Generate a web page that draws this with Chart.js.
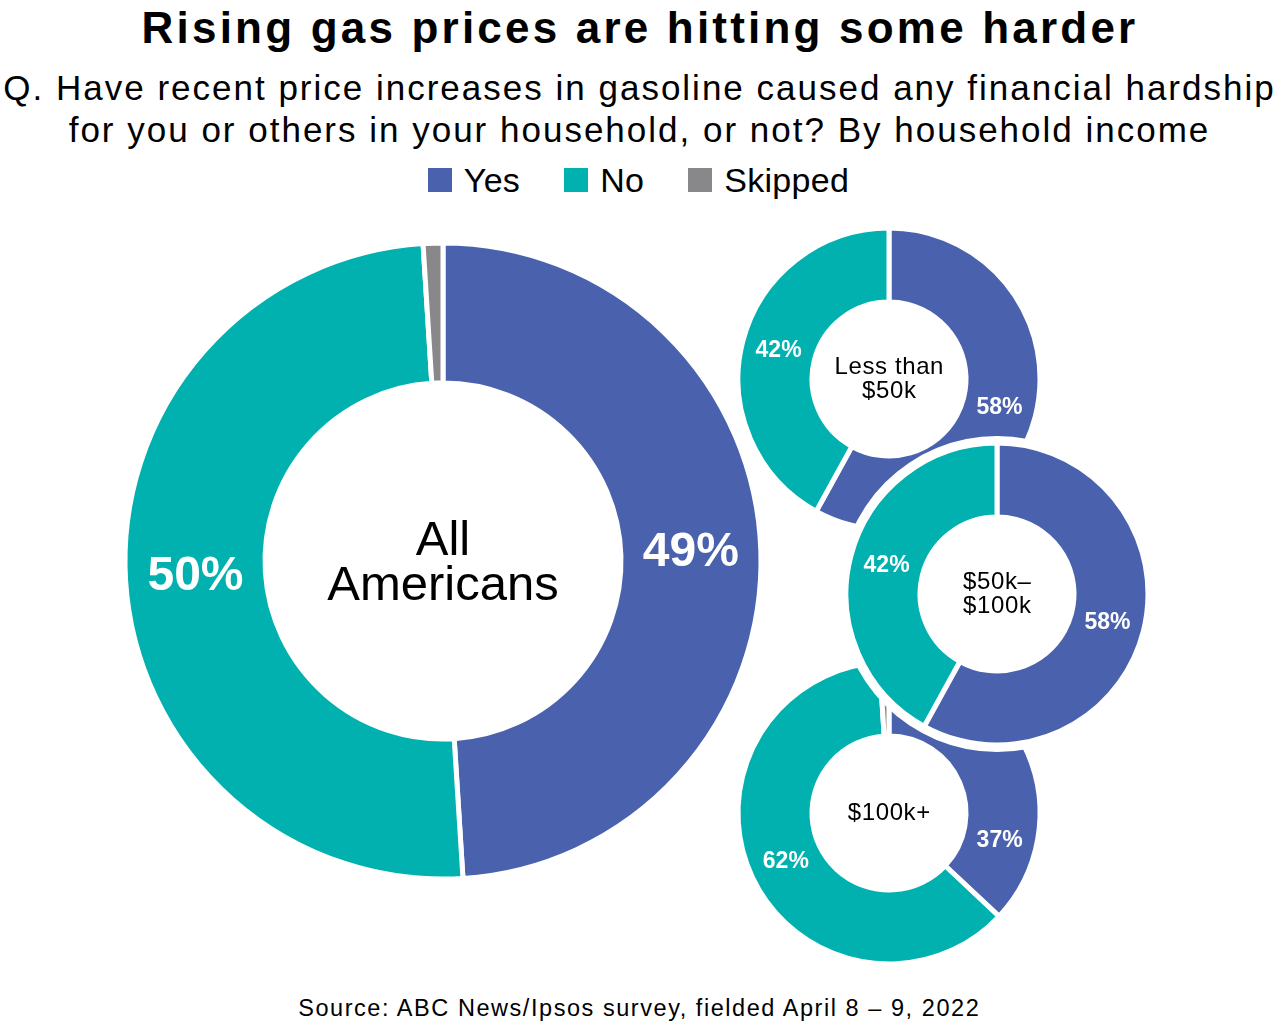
<!DOCTYPE html>
<html>
<head>
<meta charset="utf-8">
<script src="https://cdn.jsdelivr.net/npm/chart.js@4"></script>
<style>
  body { margin: 0; background: #fff; font-family: "Liberation Sans", Arial, sans-serif; }
  #wrap { position: relative; width: 1277px; height: 1024px; overflow: hidden; }
  .txt { position: absolute; left: 0; width: 1277px; text-align: center; color: #000; white-space: nowrap; }
  #title { top: 6px; font-size: 44px; line-height: 44px; font-weight: bold; letter-spacing: 3.2px; padding-left: 3px; box-sizing: border-box; }
  #subtitle { top: 67px; font-size: 35px; line-height: 42px; letter-spacing: 2px; padding-left: 2px; box-sizing: border-box; }
  #legend { top: 164px; font-size: 34px; line-height: 33px; display: flex; justify-content: center; letter-spacing: 0.3px; }
  #legend .item { display: flex; align-items: center; margin: 0 22px; }
  #legend .sw { width: 24px; height: 24px; margin-right: 12px; position: relative; top: -1px; }
  #source { top: 997px; font-size: 23.5px; line-height: 23.5px; letter-spacing: 1.55px; padding-left: 1.5px; box-sizing: border-box; }
  canvas { position: absolute; }
</style>
</head>
<body>
<div id="wrap">
  <div id="title" class="txt">Rising gas prices are hitting some harder</div>
  <div id="subtitle" class="txt">Q. Have recent price increases in gasoline caused any financial hardship<br>for you or others in your household, or not? By household income</div>
  <div id="legend" class="txt"></div>
  <canvas id="c3" width="320" height="320"></canvas>
  <canvas id="c1" width="320" height="320"></canvas>
  <canvas id="c2" width="320" height="320"></canvas>
  <canvas id="c0" width="660" height="660"></canvas>
  <div id="source" class="txt">Source: ABC News/Ipsos survey, fielded April 8 – 9, 2022</div>
</div>
<script>
const seriesLabels = ['Yes', 'No', 'Skipped'];
const seriesColors = ['#4a62ad', '#00b1b0', '#88888a'];
const groups = ['All Americans', 'Less than $50k', '$50k–$100k', '$100k+'];
const groupLines = [['All', 'Americans'], ['Less than', '$50k'], ['$50k–', '$100k'], ['$100k+']];
const yesValues = [49, 58, 58, 37];
const noValues = [50, 42, 42, 62];
const skippedValues = [1, 0, 0, 1];

// legend
const legend = document.getElementById('legend');
seriesLabels.forEach((s, i) => {
  const item = document.createElement('div');
  item.className = 'item';
  item.innerHTML = '<span class="sw" style="background:' + seriesColors[i] + '"></span>' + s;
  legend.appendChild(item);
});

// layout of each donut: centre, outer radius, inner radius, font sizes
const layouts = [
  { cx: 443, cy: 561, R: 318, r: 178, valFont: 48, ctrFont: 49, ctrGap: 45, ctrDy: 3, ls: 0 },
  { cx: 889, cy: 379, R: 151, r: 77, valFont: 23, ctrFont: 24, ctrGap: 24, ctrDy: 0, ls: 0.6 },
  { cx: 997, cy: 594, R: 151, r: 77, valFont: 23, ctrFont: 24, ctrGap: 24, ctrDy: 0, ls: 0.6, ring: true },
  // the Yes label is pushed down, out from under the middle donut
  { cx: 889, cy: 813, R: 151, r: 77, valFont: 23, ctrFont: 24, ctrGap: 24, ctrDy: 0, ls: 0.6, moveLabel: { 0: 104 } }
];

const labelPlugin = {
  id: 'donutLabels',
  beforeDatasetsDraw(chart, args, o) {
    if (!o.ring) return;
    const arc = chart.getDatasetMeta(0).data[0];
    const ctx = chart.ctx;
    ctx.save();
    ctx.fillStyle = '#fff';
    ctx.beginPath();
    ctx.arc(arc.x, arc.y, arc.outerRadius + 7, 0, Math.PI * 2);
    ctx.fill();
    ctx.restore();
  },
  afterDatasetsDraw(chart, args, o) {
    const ctx = chart.ctx;
    const meta = chart.getDatasetMeta(0);
    const vals = chart.data.datasets[0].data;
    ctx.save();
    ctx.textAlign = 'center';
    ctx.textBaseline = 'middle';
    ctx.fillStyle = '#fff';
    ctx.font = 'bold ' + o.valFont + 'px "Liberation Sans", Arial, sans-serif';
    meta.data.forEach((arc, j) => {
      if (vals[j] < 5) return;
      let p = arc.tooltipPosition();
      if (o.moveLabel && o.moveLabel[j] != null) {
        const a = o.moveLabel[j] * Math.PI / 180;
        const rr = (arc.innerRadius + arc.outerRadius) / 2;
        p = { x: arc.x + rr * Math.sin(a), y: arc.y - rr * Math.cos(a) };
      }
      ctx.fillText(vals[j] + '%', p.x, p.y);
    });
    const a0 = meta.data[0];
    ctx.fillStyle = '#000';
    ctx.font = o.ctrFont + 'px "Liberation Sans", Arial, sans-serif';
    ctx.letterSpacing = o.ls + 'px';
    const lines = o.lines;
    lines.forEach((t, k) => {
      ctx.fillText(t, a0.x + o.ls / 2, a0.y + o.ctrDy + (k - (lines.length - 1) / 2) * o.ctrGap);
    });
    ctx.restore();
  }
};

layouts.forEach((L, i) => {
  const el = document.getElementById('c' + i);
  el.style.left = (L.cx - el.width / 2) + 'px';
  el.style.top = (L.cy - el.height / 2) + 'px';
  new Chart(el, {
    type: 'doughnut',
    data: {
      labels: seriesLabels,
      datasets: [{
        label: groups[i],
        data: [yesValues[i], noValues[i], skippedValues[i]],
        backgroundColor: seriesColors,
        borderColor: '#fff',
        borderWidth: 5
      }]
    },
    options: {
      responsive: false,
      animation: false,
      radius: L.R,
      cutout: (L.r / L.R * 100) + '%',
      layout: { padding: 0 },
      plugins: {
        legend: { display: false },
        tooltip: { enabled: false },
        donutLabels: {
          valFont: L.valFont, ctrFont: L.ctrFont, ctrGap: L.ctrGap, ctrDy: L.ctrDy, ls: L.ls,
          lines: groupLines[i], ring: !!L.ring, moveLabel: L.moveLabel
        }
      }
    },
    plugins: [labelPlugin]
  });
});
</script>
</body>
</html>
